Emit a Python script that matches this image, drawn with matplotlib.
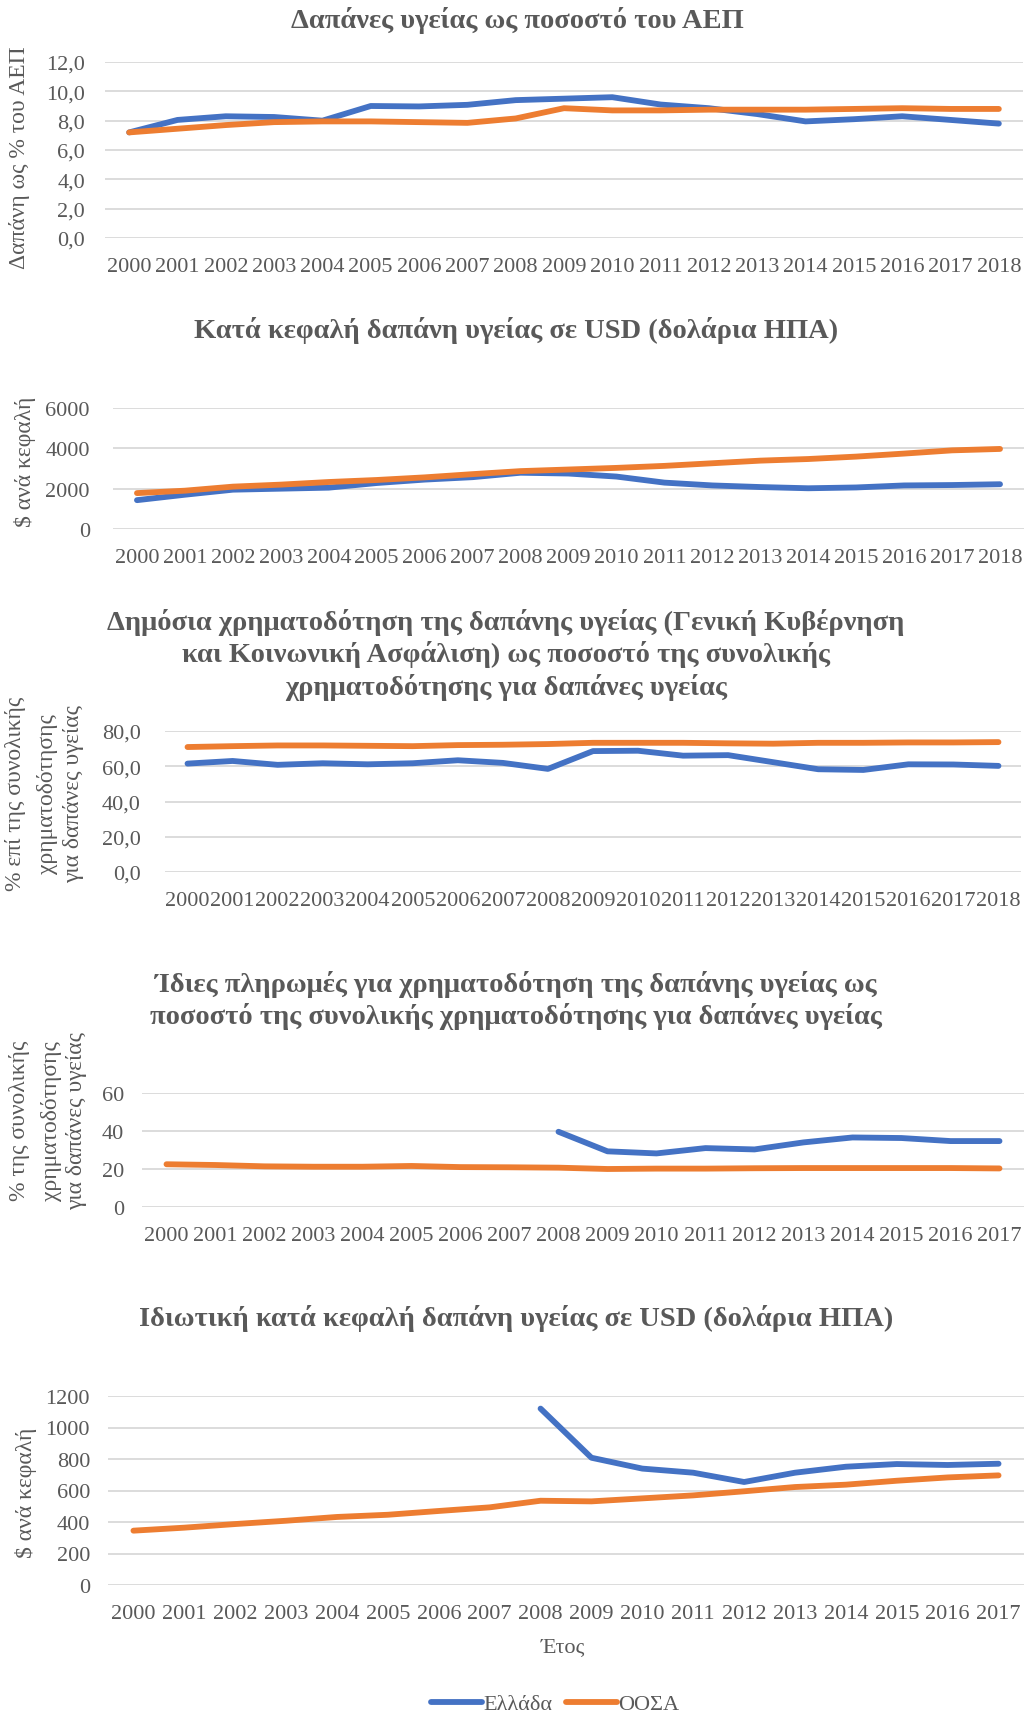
import matplotlib
matplotlib.use("Agg")
import matplotlib.pyplot as plt
from matplotlib.ticker import FuncFormatter

plt.rcParams['font.family'] = ['Liberation Serif', 'DejaVu Serif']

# ---------------- data ----------------
years_18 = [str(y) for y in range(2000, 2019)]
years_17 = [str(y) for y in range(2000, 2018)]

gdp_greece = [7.2, 8.05, 8.3, 8.25, 8.0, 9.0, 8.97, 9.08, 9.4, 9.5, 9.6, 9.1, 8.85,
              8.45, 7.95, 8.1, 8.3, 8.05, 7.8]
gdp_oecd = [7.2, 7.45, 7.7, 7.9, 7.95, 7.95, 7.9, 7.85, 8.15, 8.85, 8.7, 8.7, 8.75,
            8.75, 8.75, 8.8, 8.85, 8.8, 8.8]

pc_greece = [1430, 1700, 1950, 2000, 2050, 2280, 2450, 2570, 2790, 2750, 2600, 2300,
             2160, 2080, 2020, 2060, 2160, 2180, 2220]
pc_oecd = [1780, 1900, 2100, 2200, 2330, 2430, 2560, 2720, 2870, 2950, 3030, 3130,
           3260, 3390, 3470, 3590, 3740, 3900, 3970]

pub_greece = [61.5, 63.0, 60.8, 61.7, 61.1, 61.7, 63.4, 61.9, 58.5, 68.6, 68.8, 66.0,
              66.3, 62.3, 58.3, 57.9, 61.1, 61.0, 60.2]
pub_oecd = [70.9, 71.4, 71.8, 71.8, 71.6, 71.4, 72.0, 72.2, 72.6, 73.3, 73.3, 73.3,
            73.0, 72.8, 73.3, 73.3, 73.5, 73.5, 73.7]

oop_greece = [None] * 8 + [39.6, 29.3, 28.2, 31.0, 30.3, 34.0, 36.6, 36.3, 34.7, 34.7]
oop_oecd = [22.5, 22.1, 21.4, 21.2, 21.2, 21.6, 21.0, 20.9, 20.7, 20.0, 20.2, 20.2,
            20.4, 20.5, 20.5, 20.5, 20.5, 20.3]

priv_greece = [None] * 8 + [1120, 808, 739, 713, 654, 713, 751, 768, 762, 770]
priv_oecd = [345, 364, 387, 408, 432, 446, 470, 493, 535, 531, 550, 569, 595, 622,
             637, 662, 683, 696]

series_names = ["Ελλάδα", "ΟΟΣΑ"]

# ---------------- style ----------------
W, H = 1024, 1715
BLUE = "#4472C4"
ORANGE = "#ED7D31"
GREY = "#595959"
GRID = "#D9D9D9"
LW = 4.2
TICK_FS = 16
TITLE_FS = 20.5
YLAB_FS = 17

fig = plt.figure(figsize=(W / 100, H / 100), dpi=100)


def fx(px):
    return px / W


def fy(py):
    return 1 - py / H


def make_panel(left, right, top, bottom, cats, greece, oecd, ymax, ystep,
               fmt, ypad_px):
    ax = fig.add_axes([fx(left), fy(bottom), fx(right - left), (bottom - top) / H])
    x = list(range(len(cats)))
    gx = [i for i, v in zip(x, greece) if v is not None]
    gv = [v for v in greece if v is not None]
    lg, = ax.plot(gx, gv, color=BLUE, lw=LW, solid_capstyle='round',
                  solid_joinstyle='round', zorder=3, label=series_names[0])
    lo, = ax.plot(x, oecd, color=ORANGE, lw=LW, solid_capstyle='round',
                  solid_joinstyle='round', zorder=3, label=series_names[1])
    ax.set_xlim(-0.5, len(cats) - 0.5)
    ax.set_ylim(0, ymax)
    ax.set_yticks([i * ystep for i in range(int(round(ymax / ystep)) + 1)])
    ax.yaxis.set_major_formatter(FuncFormatter(fmt))
    ax.set_xticks(x)
    ax.set_xticklabels(cats)
    for s in ax.spines.values():
        s.set_visible(False)
    ax.grid(axis='y', color=GRID, lw=1.3, zorder=0)
    ax.set_axisbelow(True)
    ax.tick_params(axis='both', length=0, labelsize=TICK_FS, colors=GREY)
    ax.tick_params(axis='x', pad=13.5)
    ax.tick_params(axis='y', pad=ypad_px * 0.72)
    for ln in (lg, lo):
        ln.set_clip_on(False)
    return ax, lg, lo


def dec1(v, pos):
    return f"{v:.1f}".replace(".", ",")


def int0(v, pos):
    return f"{v:.0f}"


# Panel 1
make_panel(105, 1023, 63, 239, years_18, gdp_greece, gdp_oecd, 12, 2, dec1, 20)
fig.text(fx(517), fy(20), "Δαπάνες υγείας ως ποσοστό του ΑΕΠ", ha='center',
         va='center', fontsize=TITLE_FS, fontweight='bold', color=GREY)
fig.text(fx(20), fy(158), "Δαπάνη ως % του ΑΕΠ", rotation=90, ha='center',
         va='center', fontsize=YLAB_FS, color=GREY)

# Panel 2
make_panel(113, 1024, 409, 530, years_18, pc_greece, pc_oecd, 6000, 2000, int0, 23)
fig.text(fx(516), fy(330), "Κατά κεφαλή δαπάνη υγείας σε USD (δολάρια ΗΠΑ)",
         ha='center', va='center', fontsize=TITLE_FS, fontweight='bold', color=GREY)
fig.text(fx(25), fy(462), "$ ανά κεφαλή", rotation=90, ha='center',
         va='center', fontsize=YLAB_FS, color=GREY)

# Panel 3
make_panel(165, 1021, 732, 873, years_18, pub_greece, pub_oecd, 80, 20, dec1, 24)
for yy, line in zip([623, 655, 688],
                    ["Δημόσια χρηματοδότηση της δαπάνης υγείας (Γενική Κυβέρνηση",
                     "και Κοινωνική Ασφάλιση) ως ποσοστό της συνολικής",
                     "χρηματοδότησης για δαπάνες υγείας"]):
    fig.text(fx(506), fy(yy), line, ha='center', va='center', fontsize=TITLE_FS,
             fontweight='bold', color=GREY)
for xx, line in zip([16, 48, 74], ["% επί της συνολικής", "χρηματοδότησης",
                                   "για δαπάνες υγείας"]):
    fig.text(fx(xx), fy(794), line, rotation=90, ha='center', va='center',
             fontsize=YLAB_FS, color=GREY)

# Panel 4
make_panel(142, 1024, 1094, 1208, years_17, oop_greece, oop_oecd, 60, 20, int0, 18)
for yy, line in zip([985, 1017],
                    ["Ίδιες πληρωμές για χρηματοδότηση της δαπάνης υγείας ως",
                     "ποσοστό της συνολικής χρηματοδότησης για δαπάνες υγείας"]):
    fig.text(fx(516), fy(yy), line, ha='center', va='center', fontsize=TITLE_FS,
             fontweight='bold', color=GREY)
for xx, line in zip([20, 52, 77], ["% της συνολικής", "χρηματοδότησης",
                                   "για δαπάνες υγείας"]):
    fig.text(fx(xx), fy(1121), line, rotation=90, ha='center', va='center',
             fontsize=YLAB_FS, color=GREY)

# Panel 5
ax5, lg, lo = make_panel(108, 1024, 1397, 1586, years_17, priv_greece, priv_oecd,
                         1200, 200, int0, 18)
fig.text(fx(516), fy(1319), "Ιδιωτική κατά κεφαλή δαπάνη υγείας σε USD (δολάρια ΗΠΑ)",
         ha='center', va='center', fontsize=TITLE_FS, fontweight='bold', color=GREY)
fig.text(fx(26), fy(1493), "$ ανά κεφαλή", rotation=90, ha='center',
         va='center', fontsize=YLAB_FS, color=GREY)
fig.text(fx(563), fy(1648), "Έτος", ha='center', va='center', fontsize=TICK_FS,
         color=GREY)

leg = fig.legend(handles=[lg, lo], labels=series_names, loc='center',
                 bbox_to_anchor=(fx(555), fy(1705)), ncol=2, frameon=False,
                 fontsize=TICK_FS, handlelength=2.3, handletextpad=0.05,
                 columnspacing=0.6)
for t in leg.get_texts():
    t.set_color(GREY)

fig.savefig("out.png", dpi=100)
